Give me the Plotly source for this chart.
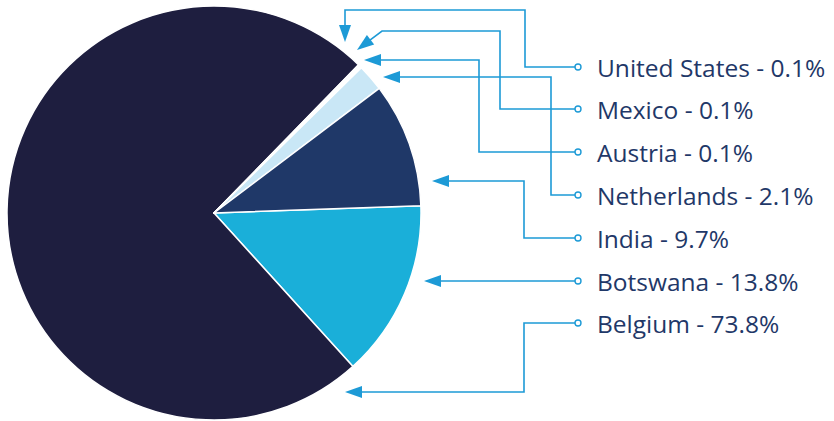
import math
import plotly.graph_objects as go

# ---- data ----
countries = ["Botswana", "Belgium", "United States", "Mexico", "Austria", "Netherlands", "India"]
shares = [13.8, 73.8, 0.1, 0.1, 0.1, 2.1, 9.7]
slice_colors = ["#1aafd9", "#1e1e3f", "#ffffff", "#1f3868", "#1aafd9", "#c9e7f6", "#1f3868"]

label_order = ["United States", "Mexico", "Austria", "Netherlands", "India", "Botswana", "Belgium"]

W, H = 834, 421
TEXT_COLOR = "#1f3868"
LINE_COLOR = "#1d9ad6"

fig = go.Figure()
fig.add_trace(go.Pie(
    labels=countries, values=shares, sort=False, direction="clockwise",
    rotation=88, textinfo="none", hoverinfo="label+percent",
    marker=dict(colors=slice_colors, line=dict(color="#ffffff", width=1.5)),
    domain=dict(x=[7 / W, 421 / W], y=[1 - 420 / H, 1 - 6 / H]),
    showlegend=False,
))

# leader paths (pixel coords) from label circle to arrow tip
label_y = {"United States": 67, "Mexico": 109, "Austria": 152, "Netherlands": 195,
           "India": 238, "Botswana": 281, "Belgium": 323}
paths = {
    "United States": [(578, 67), (525, 67), (525, 10), (345, 10), (345, 42)],
    "Mexico": [(578, 109), (500, 109), (500, 31), (382, 31), (357, 50)],
    "Austria": [(578, 152), (479, 152), (479, 60), (364, 60)],
    "Netherlands": [(578, 195), (551, 195), (551, 77), (383, 77)],
    "India": [(578, 238), (524, 238), (524, 181), (432, 181)],
    "Botswana": [(578, 281), (424, 281)],
    "Belgium": [(578, 323), (524, 323), (524, 392), (345, 392)],
}

shapes = []
annotations = []
AL, AW = 17, 12
for name in label_order:
    pts = paths[name]
    (tx, ty), (px, py) = pts[-1], pts[-2]
    dx, dy = tx - px, ty - py
    d = math.hypot(dx, dy)
    ux, uy = dx / d, dy / d
    bx, by = tx - ux * AL, ty - uy * AL
    nx, ny = -uy, ux
    line_pts = pts[:-1] + [(bx + ux * 2, by + uy * 2)]
    path = "M " + " L ".join(f"{x},{y}" for x, y in line_pts)
    shapes.append(dict(type="path", xref="x", yref="y", path=path,
                       line=dict(color=LINE_COLOR, width=1.6)))
    tri = (f"M {tx},{ty} L {bx + nx * AW / 2},{by + ny * AW / 2} "
           f"L {bx - nx * AW / 2},{by - ny * AW / 2} Z")
    shapes.append(dict(type="path", xref="x", yref="y", path=tri,
                       fillcolor=LINE_COLOR, line=dict(width=0)))
    cx, cy = pts[0]
    shapes.append(dict(type="circle", xref="x", yref="y",
                       x0=cx - 3, x1=cx + 3, y0=cy - 3, y1=cy + 3,
                       fillcolor="#ffffff", line=dict(color=LINE_COLOR, width=1.4)))
    pct = shares[countries.index(name)]
    annotations.append(dict(x=595, y=label_y[name], xref="x", yref="y",
                            text=f"{name} - {pct}%", showarrow=False,
                            xanchor="left", yanchor="middle",
                            font=dict(family="Open Sans", size=24.5, color=TEXT_COLOR)))

fig.update_layout(
    width=W, height=H, autosize=False,
    margin=dict(l=0, r=0, t=0, b=0),
    paper_bgcolor="#ffffff", plot_bgcolor="rgba(0,0,0,0)",
    xaxis=dict(range=[0, W], visible=False, fixedrange=True),
    yaxis=dict(range=[H, 0], visible=False, fixedrange=True),
    shapes=shapes, annotations=annotations,
)

fig.write_html("out.html", config={"displayModeBar": False},
               post_script="document.body.style.margin='0';")
